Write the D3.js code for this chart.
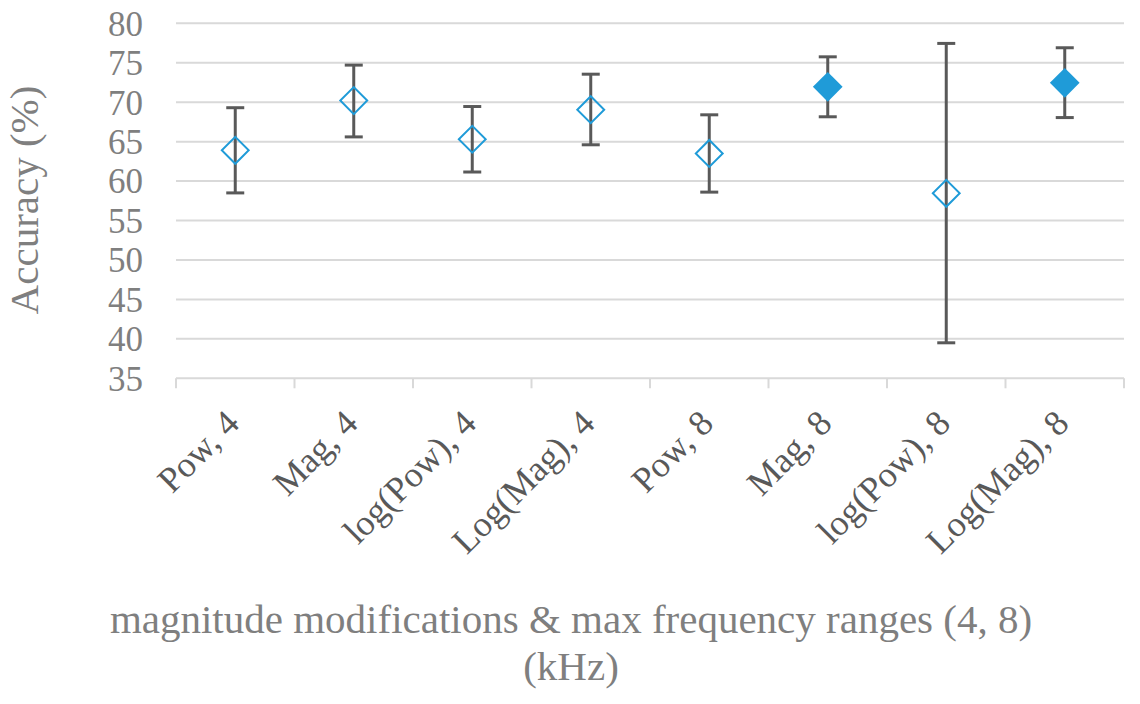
<!DOCTYPE html>
<html>
  <head>
    <meta charset="UTF-8" />
    <script src="https://cdn.jsdelivr.net/npm/d3@7"></script>
    <title>Accuracy chart</title>
    <style type="text/css">
      html, body { margin: 0; padding: 0; background: #fff; }
      svg text { font-family: "Liberation Serif", "Times New Roman", serif; }
    </style>
  </head>
  <body>
    <div id="chartcontainer"></div>
    <script>
      // categories and values
      const categories = ["Pow, 4", "Mag, 4", "log(Pow), 4", "Log(Mag), 4",
                          "Pow, 8", "Mag, 8", "log(Pow), 8", "Log(Mag), 8"];
      const accuracy = [63.9, 70.2, 65.3, 69.05, 63.5, 71.95, 58.45, 72.45];
      const errLow = [58.5, 65.6, 61.15, 64.6, 58.6, 68.15, 39.5, 68.05];
      const errHigh = [69.3, 74.7, 69.45, 73.55, 68.4, 75.75, 77.45, 76.9];
      const filled = [false, false, false, false, false, true, false, true];
      const yTicks = [35, 40, 45, 50, 55, 60, 65, 70, 75, 80];

      const FONT = '"Liberation Serif", "Times New Roman", serif';
      const W = 1140, H = 704;
      var margin = { top: 23.3, right: 16, bottom: 325.7, left: 176 },
        width = W - margin.left - margin.right,
        height = H - margin.top - margin.bottom;

      var svg = d3
        .select("#chartcontainer")
        .append("svg")
        .attr("width", W)
        .attr("height", H)
        .attr("font-family", FONT);

      var g = svg
        .append("g")
        .attr("transform", "translate(" + margin.left + "," + margin.top + ")");

      var x = d3.scaleBand().domain(categories).range([0, width]);
      var y = d3.scaleLinear().domain([35, 80]).range([height, 0]);

      // gridlines
      g.append("g")
        .selectAll("line")
        .data(yTicks.slice(1))
        .join("line")
        .attr("x1", 0)
        .attr("x2", width)
        .attr("y1", (d) => y(d))
        .attr("y2", (d) => y(d))
        .attr("stroke", "#d9d9d9")
        .attr("stroke-width", 2);

      // y axis labels
      var yAxis = g
        .append("g")
        .call(d3.axisLeft(y).tickValues(yTicks).tickSize(0).tickPadding(33));
      yAxis.attr("font-family", FONT);
      yAxis.select(".domain").remove();
      yAxis
        .selectAll("text")
        .attr("fill", "#7f7f7f")
        .style("font-family", FONT)
        .style("font-size", "35px")
        .attr("dy", "0.34em");

      // x axis: line + ticks at band edges
      var xAxis = g
        .append("g")
        .attr("transform", "translate(0," + height + ")");
      xAxis
        .append("line")
        .attr("x1", 0)
        .attr("x2", width)
        .attr("stroke", "#d9d9d9")
        .attr("stroke-width", 2);
      var edges = categories.map((c) => x(c)).concat([width]);
      xAxis
        .selectAll(".tickmark")
        .data(edges)
        .join("line")
        .attr("class", "tickmark")
        .attr("x1", (d) => d)
        .attr("x2", (d) => d)
        .attr("y1", 0)
        .attr("y2", 10)
        .attr("stroke", "#d9d9d9")
        .attr("stroke-width", 2);
      xAxis
        .selectAll(".xlabel")
        .data(categories)
        .join("text")
        .attr("class", "xlabel")
        .attr("text-anchor", "end")
        .attr("fill", "#595959")
        .style("font-family", FONT)
        .style("font-size", "36px")
        .attr("transform", (d) =>
          "translate(" + (x(d) + x.bandwidth() / 2 + 6) + ",47) rotate(-45)"
        )
        .text((d) => d);

      // error bars
      var bars = g.append("g").attr("stroke", "#595959").attr("stroke-width", 3);
      categories.forEach(function (c, i) {
        var cx = x(c) + x.bandwidth() / 2;
        bars.append("line")
          .attr("x1", cx).attr("x2", cx)
          .attr("y1", y(errLow[i])).attr("y2", y(errHigh[i]));
        [errLow[i], errHigh[i]].forEach(function (v) {
          bars.append("line")
            .attr("x1", cx - 9).attr("x2", cx + 9)
            .attr("y1", y(v)).attr("y2", y(v));
        });
      });

      // diamond markers
      g.append("g")
        .selectAll("path")
        .data(categories)
        .join("path")
        .attr("transform", (d, i) =>
          "translate(" + (x(d) + x.bandwidth() / 2) + "," + y(accuracy[i]) + ") rotate(45)"
        )
        .attr("d", (d, i) =>
          d3.symbol().type(d3.symbolSquare).size(filled[i] ? 441 : 361)()
        )
        .attr("fill", (d, i) => (filled[i] ? "#1f9bd8" : "none"))
        .attr("stroke", (d, i) => (filled[i] ? "none" : "#1f9bd8"))
        .attr("stroke-width", 2);

      // axis titles
      svg
        .append("text")
        .attr("transform", "translate(38,200) rotate(-90)")
        .attr("text-anchor", "middle")
        .attr("fill", "#7f7f7f")
        .style("font-size", "41px")
        .text("Accuracy (%)");

      svg
        .append("text")
        .attr("x", 571)
        .attr("y", 633)
        .attr("text-anchor", "middle")
        .attr("fill", "#7f7f7f")
        .style("font-size", "41px")
        .text("magnitude modifications & max frequency ranges (4, 8)");
      svg
        .append("text")
        .attr("x", 571)
        .attr("y", 680)
        .attr("text-anchor", "middle")
        .attr("fill", "#7f7f7f")
        .style("font-size", "41px")
        .text("(kHz)");
    </script>
  </body>
</html>
